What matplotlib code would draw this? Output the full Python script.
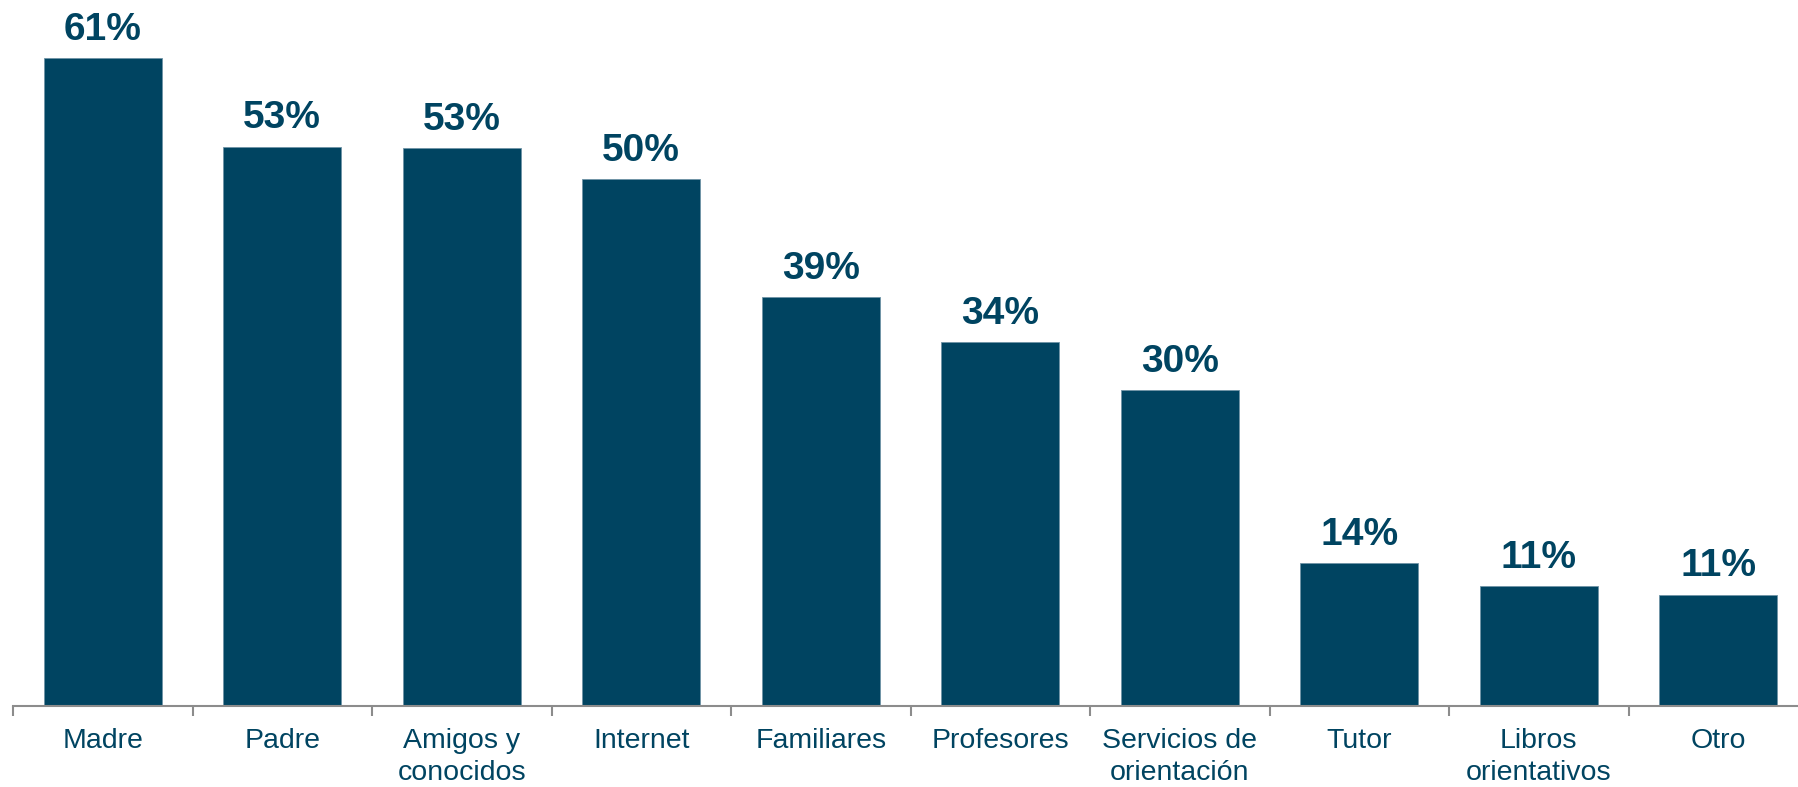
import matplotlib.pyplot as plt
from matplotlib import font_manager
import numpy as np

# Data
categories = ["Madre", "Padre", "Amigos y\nconocidos", "Internet", "Familiares",
              "Profesores", "Servicios de\norientación", "Tutor", "Libros\norientativos", "Otro"]
values = [61.0, 52.7, 52.6, 49.6, 38.5, 34.3, 29.8, 13.5, 11.3, 10.5]
labels = ["61%", "53%", "53%", "50%", "39%", "34%", "30%", "14%", "11%", "11%"]

BAR_COLOR = "#004461"
TEXT_COLOR = "#004461"
AXIS_COLOR = "#8c8c8c"


def find_font(name, weight):
    # pick the exact family (avoid the Narrow variant)
    for f in font_manager.fontManager.ttflist:
        if f.name == name and f.weight == weight and f.style == "normal" and f.stretch == "normal":
            return font_manager.FontProperties(fname=f.fname)
    return font_manager.FontProperties(family="DejaVu Sans", weight=weight)


regular = find_font("Liberation Sans", 400)
bold = find_font("Liberation Sans", 700)

fig = plt.figure(figsize=(17.98, 7.87), dpi=100)
# axes placed in pixel terms: baseline at y=706 from top, category width ~179.5 px
ax = fig.add_axes([13 / 1798, 81 / 787, 1795 / 1798, 706 / 787])

x = np.arange(len(categories))
bars = ax.bar(x, values, width=0.656, color=BAR_COLOR, edgecolor="#6f93a6",
              linewidth=0.6, zorder=2)

for b, lab in zip(bars, labels):
    ax.annotate(lab, (b.get_x() + b.get_width() / 2, b.get_height()),
                xytext=(0, 13), textcoords="offset points",
                ha="center", va="baseline", fontproperties=bold, fontsize=28,
                color=TEXT_COLOR)

ax.set_xlim(-0.5, len(categories) - 0.5)
ax.set_ylim(0, 66.5)

for side in ["top", "right", "left"]:
    ax.spines[side].set_visible(False)
ax.spines["bottom"].set_color(AXIS_COLOR)
ax.spines["bottom"].set_linewidth(1.5)
ax.spines["bottom"].set_zorder(3)

ax.set_yticks([])
ax.set_xticks(x)
ax.set_xticklabels([])
ax.tick_params(axis="x", which="major", length=0)
ax.set_xticks(np.arange(-0.5, len(categories), 1.0), minor=True)
ax.tick_params(axis="x", which="minor", length=7, width=1.5, color=AXIS_COLOR,
               direction="out")

# category labels drawn as text so the line spacing sticks
for xi, cat in zip(x, categories):
    ax.annotate(cat, (xi, 0), xycoords=("data", "axes fraction"),
                xytext=(0, -16), textcoords="offset points",
                ha="center", va="top", fontproperties=regular, fontsize=20.5,
                color=TEXT_COLOR, linespacing=1.3, annotation_clip=False)

fig.savefig("out.png", dpi=100)
